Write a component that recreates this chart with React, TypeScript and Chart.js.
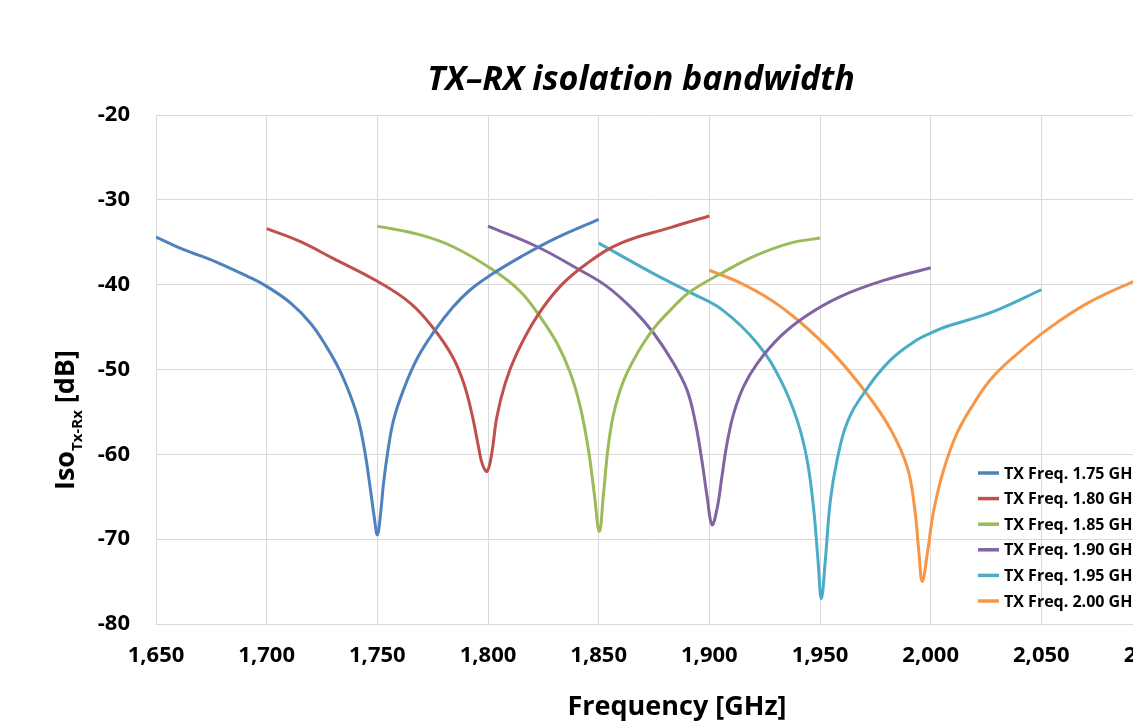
import { useEffect, useRef } from 'react';
import { Chart, registerables } from 'chart.js';

Chart.register(...registerables);

const FONT = '"Open Sans", "DejaVu Sans", sans-serif';

const TITLE = 'TX–RX isolation bandwidth';
const X_TITLE = 'Frequency [GHz]';
const Y_TITLE_MAIN = 'Iso';
const Y_TITLE_SUB = 'Tx-Rx';
const Y_TITLE_UNIT = ' [dB]';

const xTicks = [1650, 1700, 1750, 1800, 1850, 1900, 1950, 2000, 2050, 2100];
const yTicks = [-80, -70, -60, -50, -40, -30, -20];

const seriesNames = [
  'TX Freq. 1.75 GHz',
  'TX Freq. 1.80 GHz',
  'TX Freq. 1.85 GHz',
  'TX Freq. 1.90 GHz',
  'TX Freq. 1.95 GHz',
  'TX Freq. 2.00 GHz',
];
const seriesColors = ['#4F81BD', '#C0504D', '#9BBB59', '#8064A2', '#4BACC6', '#F79646'];

const freq175 = [1650, 1662, 1677, 1692, 1700, 1711, 1720, 1727, 1733, 1738, 1741.5, 1744.5, 1746.7, 1748.6, 1750, 1751.3, 1752.8, 1754.6, 1757.3, 1761.8, 1768, 1776, 1784, 1792, 1801, 1815, 1830, 1850];
const iso175 = [-34.4, -35.8, -37.3, -39.1, -40.2, -42.2, -44.6, -47.3, -50.1, -53.2, -56.0, -59.9, -63.8, -67.4, -69.5, -67.4, -63.4, -59.9, -56.0, -52.4, -48.7, -45.4, -42.7, -40.6, -38.9, -36.7, -34.6, -32.3];

const freq180 = [1700, 1715, 1730, 1750, 1765, 1775.5, 1784, 1789, 1792.7, 1795.7, 1797.5, 1799.6, 1801.7, 1804, 1807.8, 1813, 1822, 1832.6, 1844.7, 1860, 1882, 1900];
const iso180 = [-33.4, -34.9, -36.9, -39.6, -42.2, -45.2, -48.5, -51.6, -55.2, -59.1, -61.2, -62.0, -59.9, -55.6, -51.6, -48.1, -43.8, -40.2, -37.5, -35.1, -33.3, -31.9];

const freq185 = [1750, 1769, 1784, 1802.5, 1814.6, 1823.6, 1831.2, 1837.2, 1841.7, 1845.4, 1848, 1850.3, 1852.2, 1854.5, 1857.5, 1862.8, 1873.3, 1885.4, 1891.4, 1906.5, 1921.6, 1936.6, 1950];
const iso185 = [-33.1, -34.1, -35.5, -38.3, -40.8, -43.8, -46.9, -50.4, -54.4, -59.5, -64.6, -69.1, -64.6, -58.7, -54.4, -50.4, -45.7, -42.2, -40.8, -38.5, -36.5, -35.1, -34.5];

const freq190 = [1800, 1822, 1841.7, 1853.7, 1865.8, 1874.8, 1883.9, 1889.9, 1893.5, 1896.5, 1899, 1901.2, 1903.5, 1905.7, 1908, 1911, 1915.5, 1921.6, 1932.1, 1944.2, 1959.2, 1978.8, 2000];
const iso190 = [-33.1, -35.5, -38.3, -40.2, -43.0, -45.7, -49.3, -52.4, -56.0, -60.5, -65.0, -68.3, -66.4, -62.6, -58.7, -55.2, -52.0, -49.3, -46.1, -43.6, -41.4, -39.5, -38.0];

const freq195 = [1850, 1874.8, 1892, 1906, 1921.6, 1932.1, 1939.7, 1944.2, 1947.2, 1949.1, 1950.6, 1952.4, 1954.7, 1957.7, 1962.2, 1969.8, 1981.8, 1993.9, 2000, 2007.5, 2016.5, 2030, 2050];
const iso195 = [-35.1, -38.7, -41.0, -43.0, -46.9, -51.2, -56.0, -60.7, -66.6, -72.5, -77.0, -72.5, -65.4, -60.7, -56.3, -52.8, -48.9, -46.5, -45.7, -44.9, -44.2, -43.0, -40.6];

const freq200 = [1900, 1914, 1929, 1941, 1956, 1971, 1982, 1989.4, 1992.7, 1994.6, 1996.2, 1998.7, 2001.4, 2005.9, 2011.9, 2019.5, 2027, 2037.6, 2052.6, 2070.7, 2091.6, 2100];
const iso200 = [-38.3, -39.8, -42.0, -44.4, -48.1, -52.8, -57.1, -61.5, -66.2, -71.3, -75.0, -71.3, -66.6, -61.8, -57.5, -54.0, -51.2, -48.5, -45.3, -42.2, -39.65, -39.0];

const seriesFreqs = [freq175, freq180, freq185, freq190, freq195, freq200];
const seriesIsos = [iso175, iso180, iso185, iso190, iso195, iso200];

const formatThousands = (v: number) => {
  const s = String(Math.round(Math.abs(v)));
  const withComma = s.replace(/\B(?=(\d{3})+(?!\d))/g, ',');
  return (v < 0 ? '-' : '') + withComma;
};

const overlayPlugin = {
  id: 'overlayText',
  afterDraw(chart: any) {
    const ctx: CanvasRenderingContext2D = chart.ctx;
    ctx.save();
    ctx.fillStyle = '#000';
    ctx.textBaseline = 'alphabetic';

    // Chart title
    ctx.textAlign = 'center';
    ctx.font = `italic bold 34px ${FONT}`;
    ctx.fillText(TITLE, 641, 90);

    // X axis title
    ctx.font = `bold 27px ${FONT}`;
    ctx.fillText(X_TITLE, 677, 715);

    // Y axis title with subscript
    ctx.save();
    ctx.translate(74, 490);
    ctx.rotate(-Math.PI / 2);
    ctx.textAlign = 'left';
    ctx.font = `bold 27px ${FONT}`;
    ctx.fillText(Y_TITLE_MAIN, 0, 0);
    let w = ctx.measureText(Y_TITLE_MAIN).width;
    ctx.font = `bold 15px ${FONT}`;
    ctx.fillText(Y_TITLE_SUB, w, 8);
    w += ctx.measureText(Y_TITLE_SUB).width;
    ctx.font = `bold 27px ${FONT}`;
    ctx.fillText(Y_TITLE_UNIT, w, 0);
    ctx.restore();

    // Legend inside plot area
    ctx.textAlign = 'left';
    ctx.textBaseline = 'middle';
    ctx.font = `bold 16px ${FONT}`;
    seriesNames.forEach((name, i) => {
      const y = 473 + i * 25.6;
      ctx.strokeStyle = seriesColors[i];
      ctx.lineWidth = 3.5;
      ctx.beginPath();
      ctx.moveTo(978, y);
      ctx.lineTo(999, y);
      ctx.stroke();
      ctx.fillStyle = '#000';
      ctx.fillText(name, 1004, y + 1);
    });
    ctx.restore();
  },
};

export default function App() {
  const canvasRef = useRef<HTMLCanvasElement | null>(null);

  useEffect(() => {
    if (!canvasRef.current) return;
    const datasets = seriesNames.map((name, i) => ({
      label: name,
      data: seriesFreqs[i].map((f, j) => ({ x: f, y: seriesIsos[i][j] })),
      borderColor: seriesColors[i],
      backgroundColor: seriesColors[i],
      borderWidth: 3,
      pointRadius: 0,
      fill: false,
      tension: 0.4,
    }));

    const tickFont = { family: FONT, size: 22, weight: 'bold' as const };
    const chart = new Chart(canvasRef.current, {
      type: 'line',
      data: { datasets },
      options: {
        responsive: false,
        animation: false,
        devicePixelRatio: 1,
        layout: { padding: { left: 0, top: 115, right: 48, bottom: 0 } },
        plugins: {
          legend: { display: false },
          title: { display: false },
          tooltip: { enabled: false },
        },
        scales: {
          x: {
            type: 'linear',
            min: xTicks[0],
            max: xTicks[xTicks.length - 1],
            afterBuildTicks: (s: any) => {
              s.ticks = xTicks.map((value) => ({ value }));
            },
            afterFit: (s: any) => {
              s.height = 104;
            },
            ticks: {
              callback: (v: any) => formatThousands(Number(v)),
              font: tickFont,
              color: '#000',
              padding: 19,
              maxRotation: 0,
              autoSkip: false,
            },
            grid: { color: '#d9d9d9', drawTicks: false, lineWidth: 1 },
            border: { color: '#d9d9d9' },
          },
          y: {
            type: 'linear',
            min: yTicks[0],
            max: yTicks[yTicks.length - 1],
            afterBuildTicks: (s: any) => {
              s.ticks = yTicks.map((value) => ({ value }));
            },
            afterFit: (s: any) => {
              s.width = 156;
            },
            ticks: {
              callback: (v: any) => formatThousands(Number(v)),
              font: tickFont,
              color: '#000',
              padding: 26,
              autoSkip: false,
            },
            grid: { color: '#d9d9d9', drawTicks: false, lineWidth: 1 },
            border: { color: '#d9d9d9' },
          },
        },
      },
      plugins: [overlayPlugin],
    });
    return () => chart.destroy();
  }, []);

  return (
    <div
      style={{
        position: 'fixed',
        left: 0,
        top: 0,
        width: 1133,
        height: 728,
        overflow: 'hidden',
        background: '#fff',
      }}
    >
      <canvas ref={canvasRef} width={1200} height={728} style={{ display: 'block' }} />
    </div>
  );
}
